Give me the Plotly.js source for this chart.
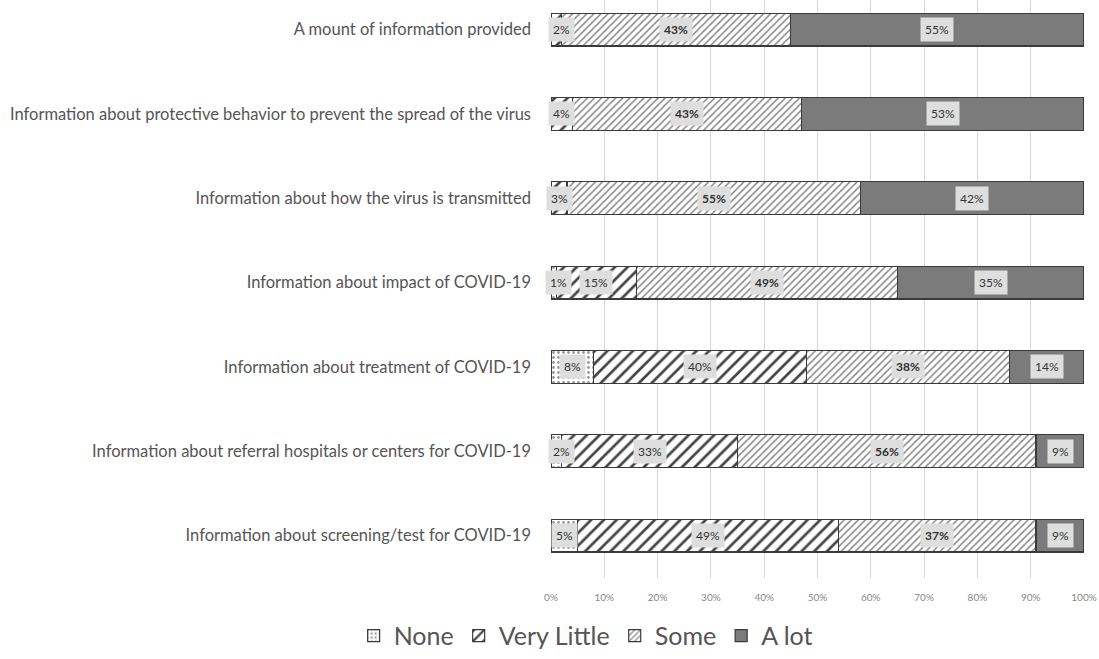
<!DOCTYPE html>
<html>
<head>
<meta charset="utf-8">
<script src="https://cdn.plot.ly/plotly-3.0.1.min.js"></script>
<style>html,body{margin:0;padding:0;background:#fff;}#chart{width:1099px;height:659px;}</style>
</head>
<body>
<div id="chart"></div>
<script>
const categories = [
  "A mount of information provided",
  "Information about protective behavior to prevent the spread of the virus",
  "Information about how the virus is transmitted",
  "Information about impact of COVID-19",
  "Information about treatment of COVID-19",
  "Information about referral hospitals or centers for COVID-19",
  "Information about screening/test for COVID-19"
];
const seriesNames = ["None", "Very Little", "Some", "A lot"];
const noneVals = [0, 0, 0, 1, 8, 2, 5];
const veryLittleVals = [2, 4, 3, 15, 40, 33, 49];
const someVals = [43, 43, 55, 49, 38, 56, 37];
const aLotVals = [55, 53, 42, 35, 14, 9, 9];
const xTickVals = [0,10,20,30,40,50,60,70,80,90,100];
const xTickText = ["0%","10%","20%","30%","40%","50%","60%","70%","80%","90%","100%"];

const allVals = [noneVals, veryLittleVals, someVals, aLotVals];
const styles = [
  {pattern:{shape:".", fgcolor:"#999", bgcolor:"#fff", size:5, solidity:0.25}, color:"#fff"},
  {pattern:{shape:"/", fgcolor:"#444", bgcolor:"#fff", size:9, solidity:0.3}, color:"#fff"},
  {pattern:{shape:"/", fgcolor:"#888", bgcolor:"#fff", size:5, solidity:0.3}, color:"#fff"},
  {pattern:{shape:"", fgcolor:"#7b7b7b", bgcolor:"#7b7b7b"}, color:"#7b7b7b"}
];

const traces = allVals.map((vals, i) => ({
  type: "bar",
  orientation: "h",
  name: seriesNames[i],
  y: categories,
  x: vals,
  marker: {
    color: styles[i].color,
    pattern: styles[i].pattern,
    line: {color: "#3a3a3a", width: 1.2}
  },
  hoverinfo: "x+name"
}));

const annotations = [];
categories.forEach((cat, r) => {
  let cum = 0;
  allVals.forEach((vals, i) => {
    const v = vals[r];
    if (v > 0) {
      annotations.push({
        x: cum + v / 2, y: cat, xref: "x", yref: "y",
        xshift: (v <= 2 && cum === 0) ? 5 : 0,
        text: v + "%", showarrow: false,
        font: {family: "Lato, 'Open Sans', sans-serif", size: 12, color: "#333", weight: i === 2 ? "bold" : "normal"},
        bgcolor: "#dedede", borderpad: 4
      });
    }
    cum += v;
  });
});

const layout = {
  width: 1099, height: 659,
  margin: {l: 551, r: 15, t: 0, b: 73},
  paper_bgcolor: "#fff", plot_bgcolor: "#fff",
  barmode: "stack",
  bargap: 0.61,
  showlegend: true,
  legend: {
    orientation: "h", x: 0.065, xanchor: "center", y: -0.1, yanchor: "middle",
    font: {family: "Lato, 'Open Sans', sans-serif", size: 25, color: "#555"},
    traceorder: "normal", itemwidth: 30
  },
  xaxis: {
    range: [0, 100], tickvals: xTickVals, ticktext: xTickText,
    showgrid: true, gridcolor: "#d9d9d9", gridwidth: 1, zeroline: false,
    showline: false, ticks: "", ticklabelstandoff: 12,
    tickfont: {family: "Lato, 'Open Sans', sans-serif", size: 10, color: "#888"}
  },
  yaxis: {
    type: "category", categoryorder: "array", categoryarray: categories,
    range: [6.503, -0.351],
    showgrid: false, zeroline: false, showline: false, ticks: "",
    ticklabelstandoff: 19,
    tickfont: {family: "Lato, 'Open Sans', sans-serif", size: 16.5, color: "#555"}
  },
  annotations: annotations
};

Plotly.newPlot("chart", traces, layout, {displayModeBar: false, staticPlot: true});
</script>
</body>
</html>
